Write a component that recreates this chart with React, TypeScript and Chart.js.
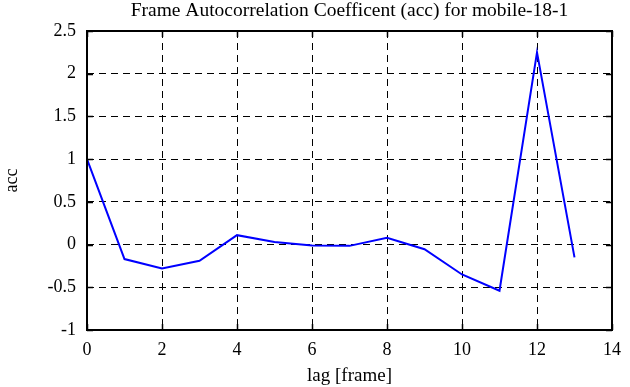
import React, { useEffect, useRef } from "react";
import { Chart, registerables } from "chart.js";

Chart.register(...registerables);

const TITLE = "Frame Autocorrelation Coefficent (acc) for mobile-18-1";
const X_LABEL = "lag [frame]";
const Y_LABEL = "acc";
const lags = [0, 1, 2, 3, 4, 5, 6, 7, 8, 9, 10, 11, 12, 13];
const accValues = [1.0, -0.17, -0.28, -0.19, 0.11, 0.03, -0.01, -0.015, 0.08, -0.055, -0.35, -0.54, 2.25, -0.15];
const X_MIN = 0, X_MAX = 14, X_STEP = 2;
const Y_MIN = -1, Y_MAX = 2.5, Y_STEP = 0.5;

const FONT = "'Liberation Serif', 'Times New Roman', serif";

const framePlugin = {
  id: "frameAndTitle",
  afterDraw(chart: any) {
    const { ctx, chartArea } = chart;
    const { left, right, top, bottom } = chartArea;
    const xs = chart.scales.x;
    const ys = chart.scales.y;
    ctx.save();
    ctx.strokeStyle = "#000";
    ctx.lineWidth = 2;
    ctx.setLineDash([]);
    ctx.strokeRect(left, top, right - left, bottom - top);
    ctx.lineWidth = 1.5;
    const tl = 6;
    ctx.beginPath();
    xs.ticks.forEach((t: any) => {
      const px = Math.round(xs.getPixelForValue(t.value)) + 0.5;
      ctx.moveTo(px, bottom);
      ctx.lineTo(px, bottom - tl);
      ctx.moveTo(px, top);
      ctx.lineTo(px, top + tl);
    });
    ys.ticks.forEach((t: any) => {
      const py = Math.round(ys.getPixelForValue(t.value)) + 0.5;
      ctx.moveTo(left, py);
      ctx.lineTo(left + tl, py);
      ctx.moveTo(right, py);
      ctx.lineTo(right - tl, py);
    });
    ctx.stroke();
    ctx.fillStyle = "#000";
    ctx.font = `19.5px ${FONT}`;
    ctx.textAlign = "center";
    ctx.textBaseline = "alphabetic";
    ctx.fillText(TITLE, (left + right) / 2, 16);
    ctx.restore();
  },
};

export default function App() {
  const ref = useRef<HTMLCanvasElement | null>(null);
  useEffect(() => {
    document.body.style.margin = "0";
    const canvas = ref.current!;
    const chart = new Chart(canvas, {
      type: "line",
      data: {
        datasets: [
          {
            data: lags.map((l, i) => ({ x: l, y: accValues[i] })),
            borderColor: "#0000ff",
            borderWidth: 2,
            pointRadius: 0,
            tension: 0,
            fill: false,
          },
        ],
      },
      options: {
        responsive: false,
        animation: false,
        devicePixelRatio: 1,
        layout: { padding: { top: 31, right: 18, left: 0, bottom: 0 } },
        plugins: { legend: { display: false }, title: { display: false }, tooltip: { enabled: false } },
        scales: {
          x: {
            type: "linear",
            min: X_MIN,
            max: X_MAX,
            ticks: { stepSize: X_STEP, color: "#000", font: { family: FONT, size: 18 }, padding: 9, maxRotation: 0, callback: (v: any) => String(v) },
            grid: { color: "#000", lineWidth: 1, drawTicks: false },
            border: { display: false, dash: [7, 5] },
            title: { display: true, text: X_LABEL, color: "#000", font: { family: FONT, size: 19 }, padding: { top: 0, bottom: 0 } },
            afterFit: (s: any) => { s.height = 57; },
          },
          y: {
            type: "linear",
            min: Y_MIN,
            max: Y_MAX,
            ticks: { stepSize: Y_STEP, color: "#000", font: { family: FONT, size: 18 }, padding: 11, callback: (v: any) => String(Math.round(v * 10) / 10) },
            grid: { color: "#000", lineWidth: 1, drawTicks: false },
            border: { display: false, dash: [7, 5] },
            title: { display: true, text: Y_LABEL, color: "#000", font: { family: FONT, size: 18 }, padding: { top: 1, bottom: 0 } },
            afterFit: (s: any) => { s.width = 87; },
          },
        },
      },
      plugins: [framePlugin],
    } as any);
    return () => chart.destroy();
  }, []);
  return <canvas ref={ref} width={630} height={387} style={{ display: "block" }} />;
}
